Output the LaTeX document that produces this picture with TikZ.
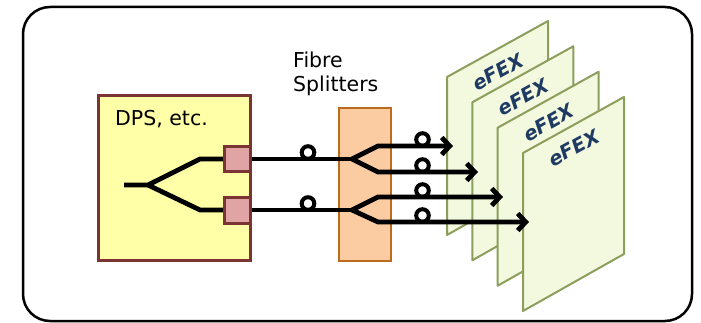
\documentclass[tikz,border=0pt]{standalone}
\usepackage{fontspec}
\setmainfont{DejaVu Sans}
\usetikzlibrary{arrows.meta}
\definecolor{dpsfill}{HTML}{FFFFA8}
\definecolor{dpsdraw}{HTML}{7B3434}
\definecolor{portfill}{HTML}{E0A4A4}
\definecolor{splitfill}{HTML}{FBCBA2}
\definecolor{splitdraw}{HTML}{BC6A1E}
\definecolor{boardfill}{HTML}{F2F9DF}
\definecolor{boarddraw}{HTML}{8C9E5C}
\definecolor{efexblue}{HTML}{1F3B63}
\begin{document}
\begin{tikzpicture}[x=1pt,y=-1pt,
  fibre/.style={line width=4.8pt},
  fibrearrow/.style={fibre,-{Straight Barb[length=8pt,width=17pt]}},
  loopc/.style={line width=4pt},
  board/.style={fill=boardfill,draw=boarddraw,line width=2pt,line join=round},
  efex/.style={font=\bfseries\itshape\fontsize{19.5}{21}\selectfont,text=efexblue,rotate=29,inner sep=0pt},
  txt/.style={font=\fontsize{20.5}{24}\selectfont,inner sep=0pt,anchor=base west},
  portbox/.style={draw=dpsdraw,fill=portfill,line width=3pt,minimum width=26pt,minimum height=25pt,inner sep=0pt}]
\useasboundingbox (0,0) rectangle (701,323);
\draw[line width=2.5pt,rounded corners=27pt] (23,7) rectangle (692,321);
% DPS box
\node[draw=dpsdraw,fill=dpsfill,line width=3pt,minimum width=152pt,minimum height=165pt,inner sep=0pt] (dps) at (174.5,178) {};
\node[txt] (dpslabel) at (115,126) {DPS, etc.};
% splitter
\node[draw=splitdraw,fill=splitfill,line width=2pt,minimum width=52pt,minimum height=153pt,inner sep=0pt] (split) at (365,184.5) {};
\node[txt] (fibrelabel) at (293,68) {Fibre};
\node[txt] (splitlabel) at (293,92) {Splitters};
% boards
\foreach \k/\L/\T in {1/447/77,2/472.3/102.3,3/497.7/127.7,4/523/153}{
  \draw[board] (\L,\T) -- ++(101,-56) -- ++(0,157) -- ++(-101,57) -- cycle;
  \node[efex] (efex\k) at (\L+51,\T-5) {eFEX};
}
% coordinates
\coordinate (in) at (124,185);
\coordinate (b0) at (148,185);
\coordinate (u0) at (200,159);
\coordinate (d0) at (200,210);
\coordinate (s1) at (352,159);
\coordinate (s2) at (352,210);
\coordinate (t1) at (453,146);
\coordinate (t2) at (478,172);
\coordinate (t3) at (503,197);
\coordinate (t4) at (529,222);
% input branch
\draw[fibre] (in) -- (b0) -- (u0) -- (224,159);
\draw[fibre] (b0) -- (d0) -- (224,210);
% ports
\node[portbox] (port1) at (237.5,159) {};
\node[portbox] (port2) at (237.5,210.5) {};
% fibres to splitter and eFEX
\draw[fibre] (port1.east |- s1) -- (s1);
\draw[fibre] (port2.east |- s2) -- (s2);
\draw[fibrearrow] (s1) -- (378,146) -- (t1);
\draw[fibrearrow] (s1) -- (378,172) -- (t2);
\draw[fibrearrow] (s2) -- (378,197) -- (t3);
\draw[fibrearrow] (s2) -- (378,222) -- (t4);
% loops
\draw[loopc] (308,152.5) circle (6.3);
\draw[loopc] (308,203.5) circle (6.3);
\draw[loopc] (422.5,139.5) circle (6.3);
\draw[loopc] (422.5,165.5) circle (6.3);
\draw[loopc] (422.5,190.5) circle (6.3);
\draw[loopc] (422.5,215.5) circle (6.3);
\end{tikzpicture}
\end{document}
